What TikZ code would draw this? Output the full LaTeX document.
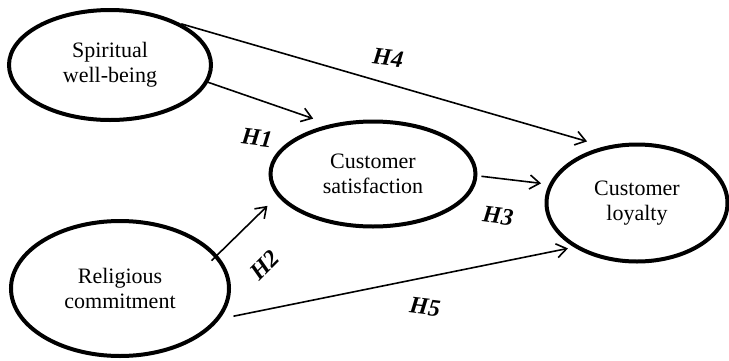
\documentclass[tikz,border=0pt]{standalone}
\usepackage{fontspec}
\setmainfont{Liberation Serif}
\usetikzlibrary{shapes.geometric,arrows.meta}

\begin{document}
\begin{tikzpicture}[x=0.5pt, y=-0.5pt,
    construct/.style={draw, ellipse, line width=2pt, inner sep=0pt, align=center, font=\fontsize{11}{12.5}\selectfont},
    link/.style={draw, line width=0.8pt, -{Straight Barb[length=5pt,width=7pt]}},
    hyp/.style={font=\fontsize{12}{14}\selectfont\bfseries\itshape, rotate=-7}]
    \useasboundingbox (0,0) rectangle (729,360);

    % Construct 1
    \node[construct, minimum width=101pt, minimum height=55pt] (spirit) at (110,65) {Spiritual\\well-being};

    % Construct 2
    \node[construct, minimum width=109pt, minimum height=67.5pt] (relig) at (120,288.5) {Religious\\commitment};

    % Mediator
    \node[construct, minimum width=102.5pt, minimum height=52.5pt] (sat) at (373,174) {Customer\\satisfaction};

    % Outcome
    \node[construct, minimum width=90.5pt, minimum height=58.5pt] (loyal) at (637,203) {Customer\\loyalty};

    % Hypothesised paths
    \draw[link, shorten >=9pt] (spirit.30) -- (loyal.120);
    \draw[link, shorten >=8.8pt] (spirit.-10) -- (sat.131);
    \draw[link, shorten <=-4pt, shorten >=7pt] (relig.19) -- (sat.-167);
    \draw[link, shorten <=2pt, shorten >=4pt] (sat.-1) -- (loyal.168);
    \draw[link, shorten <=7pt, shorten >=3pt] (relig.-17) -- (loyal.-145);

    % Labels
    \node[hyp] (h4) at (388,58) {H4};
    \node[hyp] (h1) at (257,138) {H1};
    \node[hyp, rotate=52] (h2) at (265,265) {H2};
    \node[hyp] (h3) at (498,216) {H3};
    \node[hyp] (h5) at (425,307) {H5};
\end{tikzpicture}
\end{document}
